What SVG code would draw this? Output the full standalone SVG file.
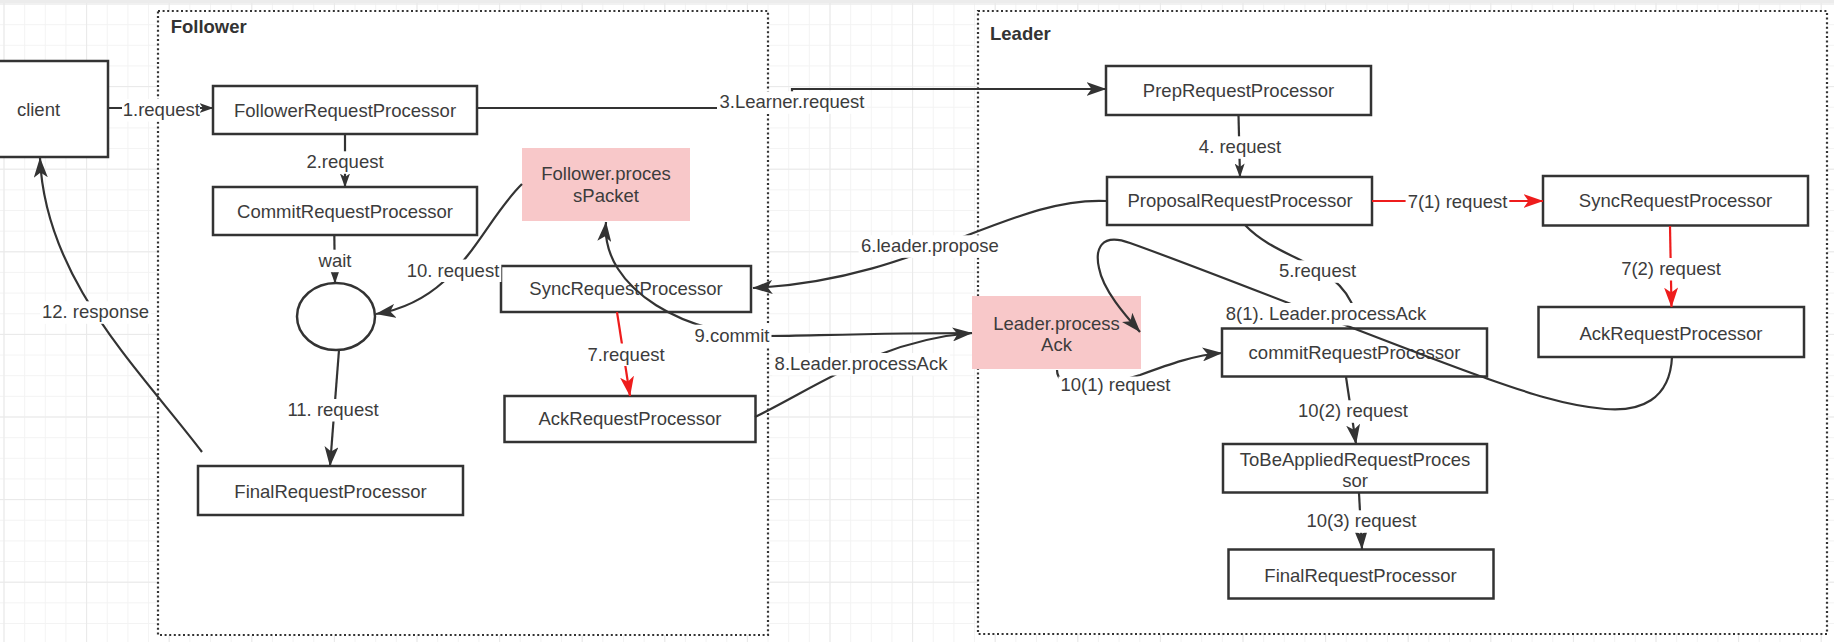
<svg xmlns="http://www.w3.org/2000/svg" width="1834" height="642" viewBox="0 0 1834 642">
<style>
.box{fill:#fff;stroke:#333;stroke-width:2.5}
.pink{fill:#f8c8c9}
.cont{fill:#fff;stroke:#333;stroke-width:2.2;stroke-dasharray:2 2.6}
.t{font-family:"Liberation Sans",Arial,sans-serif;font-size:18.5px;fill:#3c3c3c;text-anchor:middle}
.b{font-weight:bold;text-anchor:start;fill:#333}
.e{fill:none;stroke:#333;stroke-width:2.2}
.r{fill:none;stroke:#ee1c1c;stroke-width:2.2}
.lb{fill:#fff}
</style>
<defs>
<pattern id="gMinor" x="3.5" y="3.5" width="20.65" height="20.65" patternUnits="userSpaceOnUse">
<path d="M0 0.5H20.65M0.5 0V20.65" stroke="#f3f3f3" stroke-width="1" fill="none"/>
</pattern>
<pattern id="gMajor" x="3.5" y="3.5" width="82.6" height="82.6" patternUnits="userSpaceOnUse">
<path d="M0 0.5H82.6M0.5 0V82.6" stroke="#e9e9e9" stroke-width="1" fill="none"/>
</pattern>
<marker id="ab" viewBox="0 0 20 14" refX="19.5" refY="7" markerWidth="20" markerHeight="14" orient="auto" markerUnits="userSpaceOnUse"><path d="M0,0 L20,7 L0,14 L5,7 Z" fill="#333"/></marker>
<marker id="as" viewBox="0 0 14 10" refX="13.5" refY="5" markerWidth="14" markerHeight="10" orient="auto" markerUnits="userSpaceOnUse"><path d="M0,0 L14,5 L0,10 L3.5,5 Z" fill="#333"/></marker>
<marker id="ar" viewBox="0 0 20 14" refX="19.5" refY="7" markerWidth="20" markerHeight="14" orient="auto" markerUnits="userSpaceOnUse"><path d="M0,0 L20,7 L0,14 L5,7 Z" fill="#ee1c1c"/></marker>
</defs>

<rect x="0" y="0" width="1834" height="642" fill="#fff"/>
<rect x="0" y="0" width="1834" height="642" fill="url(#gMinor)"/>
<rect x="0" y="0" width="1834" height="642" fill="url(#gMajor)"/>
<rect x="0" y="0" width="1834" height="3" fill="#ececec"/>

<g id="follower-container">
<rect class="cont" x="158" y="11" width="610" height="624"/>
<text class="t b" x="170.7" y="33.3">Follower</text>
</g>
<g id="leader-container">
<rect class="cont" x="978" y="11" width="849" height="623"/>
<text class="t b" x="990" y="40">Leader</text>
</g>

<g id="client">
<rect class="box" x="-40" y="61" width="148" height="96"/>
<text class="t" x="38.5" y="116">client</text>
</g>
<g id="follower-request-processor">
<rect class="box" x="213" y="86" width="264" height="48"/>
<text class="t" x="345" y="117.3">FollowerRequestProcessor</text>
</g>
<g id="commit-request-processor">
<rect class="box" x="213" y="187" width="264" height="48"/>
<text class="t" x="345" y="218">CommitRequestProcessor</text>
</g>
<g id="wait-point">
<ellipse class="box" cx="336" cy="316.5" rx="39" ry="33.5"/>
</g>
<g id="final-request-processor-follower">
<rect class="box" x="198" y="466" width="265" height="49"/>
<text class="t" x="330.5" y="498.3">FinalRequestProcessor</text>
</g>
<g id="follower-process-packet">
<rect class="pink" x="522" y="148" width="168" height="73"/>
<text class="t" x="606" y="180">Follower.proces</text>
<text class="t" x="606" y="202">sPacket</text>
</g>
<g id="sync-request-processor-follower">
<rect class="box" x="501" y="266" width="250" height="46"/>
<text class="t" x="626" y="295">SyncRequestProcessor</text>
</g>
<g id="ack-request-processor-follower">
<rect class="box" x="504.5" y="396" width="251" height="46"/>
<text class="t" x="630" y="425">AckRequestProcessor</text>
</g>
<g id="prep-request-processor">
<rect class="box" x="1106" y="66" width="265" height="49"/>
<text class="t" x="1238.5" y="96.7">PrepRequestProcessor</text>
</g>
<g id="proposal-request-processor">
<rect class="box" x="1107" y="177" width="265" height="48"/>
<text class="t" x="1240" y="207.3">ProposalRequestProcessor</text>
</g>
<g id="sync-request-processor-leader">
<rect class="box" x="1543" y="176" width="265" height="49.5"/>
<text class="t" x="1675.5" y="207.3">SyncRequestProcessor</text>
</g>
<g id="ack-request-processor-leader">
<rect class="box" x="1538.5" y="307" width="265.5" height="50"/>
<text class="t" x="1671" y="340">AckRequestProcessor</text>
</g>
<g id="leader-process-ack">
<rect class="pink" x="972" y="296" width="169" height="73"/>
<text class="t" x="1056.5" y="330">Leader.process</text>
<text class="t" x="1056.5" y="351">Ack</text>
</g>
<g id="commit-request-processor-leader">
<rect class="box" x="1222" y="328.5" width="265" height="48"/>
<text class="t" x="1354.5" y="359.3">commitRequestProcessor</text>
</g>
<g id="to-be-applied-request-processor">
<rect class="box" x="1223" y="444" width="264" height="48.5"/>
<text class="t" x="1355" y="466">ToBeAppliedRequestProces</text>
<text class="t" x="1355" y="487">sor</text>
</g>
<g id="final-request-processor-leader">
<rect class="box" x="1228.5" y="549.5" width="265" height="49"/>
<text class="t" x="1360.5" y="581.7">FinalRequestProcessor</text>
</g>

<g id="connectors">
<path class="e" d="M108,108 L213,108" marker-end="url(#as)"/>
<path class="e" d="M345,134 L345,187" marker-end="url(#as)"/>
<path class="e" d="M334.3,235 L335,283" marker-end="url(#as)"/>
<path class="e" d="M477,108 H792 V89 H1106" marker-end="url(#ab)"/>
<path class="e" d="M1238.5,115 L1240,177" marker-end="url(#as)"/>
<path class="e" d="M1245,225 C1280,262 1340,262 1355,312"/>
<path class="e" d="M1107,201 C1010,196 920,280 753,288" marker-end="url(#ab)"/>
<path class="r" d="M617,312 L630,396" marker-end="url(#ar)"/>
<path class="r" d="M1372,201 L1543,201" marker-end="url(#ar)"/>
<path class="r" d="M1670,226 L1671.5,307" marker-end="url(#ar)"/>
<path class="e" d="M755,417 C820,385 880,340 972,333" marker-end="url(#ab)"/>
<path class="e" d="M972,333 C880,333 800,336 773,336 C690,338 600,290 606,222" marker-end="url(#ab)"/>
<path class="e" d="M1672,357 C1670,400 1640,412 1605,409 C1560,405 1520,390 1477,375 C1380,340 1220,275 1130,243 C1100,232 1095,250 1099,268 C1103,290 1125,315 1140,332" marker-end="url(#ab)"/>
<path class="e" d="M522,184 C480,225 460,300 376,314" marker-end="url(#ab)"/>
<path class="e" d="M1057,370 C1057,392 1100,388 1140,375 C1170,364 1195,355 1222,353" marker-end="url(#ab)"/>
<path class="e" d="M1346,377 L1356,444" marker-end="url(#ab)"/>
<path class="e" d="M1359,493 L1362,549" marker-end="url(#ab)"/>
<path class="e" d="M339,350 L330,466" marker-end="url(#ab)"/>
<path class="e" d="M202,452 C140,370 45,280 40,158" marker-end="url(#ab)"/>

<rect class="lb" x="122" y="99" width="78" height="22.5"/>
<text class="t" x="161.3" y="116">1.request</text>
<rect class="lb" x="305.5" y="151.3" width="79" height="22.5"/>
<text class="t" x="345" y="168.3">2.request</text>
<rect class="lb" x="316.5" y="249.7" width="37" height="22.5"/>
<text class="t" x="335" y="266.7">wait</text>
<rect class="lb" x="717" y="91.3" width="150" height="22.5"/>
<text class="t" x="792" y="108.3">3.Learner.request</text>
<rect class="lb" x="1196.8" y="136.3" width="86.3" height="22.5"/>
<text class="t" x="1240" y="153.3">4. request</text>
<rect class="lb" x="1277" y="260.3" width="81" height="22.5"/>
<text class="t" x="1317.5" y="277.3">5.request</text>
<rect class="lb" x="858.6" y="235.3" width="142.8" height="22.5"/>
<text class="t" x="930" y="252.3">6.leader.propose</text>
<rect class="lb" x="585.5" y="343.5" width="81" height="22.5"/>
<text class="t" x="626" y="360.5">7.request</text>
<rect class="lb" x="1405.6" y="191.3" width="103.7" height="22.5"/>
<text class="t" x="1457.5" y="208.3">7(1) request</text>
<rect class="lb" x="1619.2" y="258" width="103.7" height="22.5"/>
<text class="t" x="1671" y="275">7(2) request</text>
<rect class="lb" x="772.2" y="353" width="177.7" height="22.5"/>
<text class="t" x="861" y="370">8.Leader.processAck</text>
<rect class="lb" x="1223.3" y="303" width="205.5" height="22.5"/>
<text class="t" x="1326" y="320">8(1). Leader.processAck</text>
<rect class="lb" x="692.5" y="324.7" width="79" height="22.5"/>
<text class="t" x="732" y="341.7">9.commit</text>
<rect class="lb" x="404.8" y="259.5" width="96.5" height="22.5"/>
<text class="t" x="453" y="276.5">10. request</text>
<rect class="lb" x="1058.5" y="376.5" width="114" height="20"/>
<text class="t" x="1115.5" y="391">10(1) request</text>
<rect class="lb" x="1296" y="400.3" width="114" height="22.5"/>
<text class="t" x="1353" y="417.3">10(2) request</text>
<rect class="lb" x="1304.5" y="510.3" width="114" height="22.5"/>
<text class="t" x="1361.5" y="527.3">10(3) request</text>
<rect class="lb" x="284.8" y="399" width="96.5" height="22.5"/>
<text class="t" x="333" y="416">11. request</text>
<rect class="lb" x="40" y="301.3" width="111" height="22.5"/>
<text class="t" x="95.5" y="318.3">12. response</text>
</g>
</svg>
